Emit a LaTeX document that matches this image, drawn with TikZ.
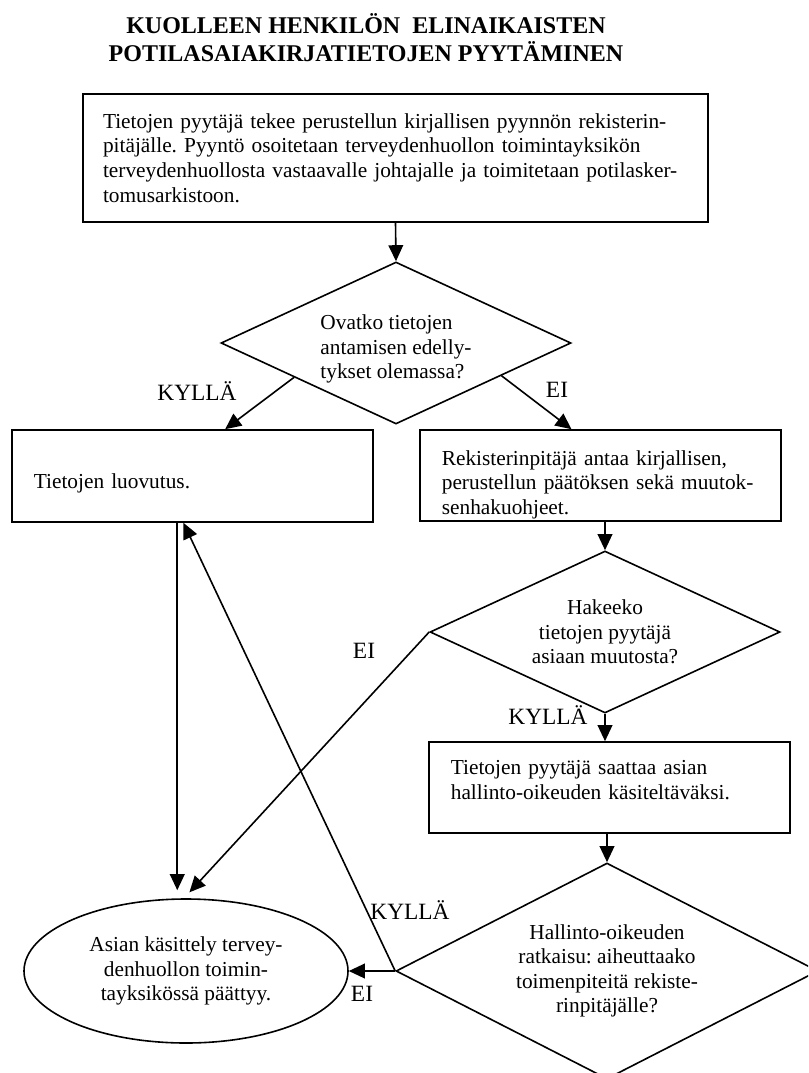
\documentclass[tikz,border=0pt]{standalone}
\usepackage{fontspec}
\setmainfont{Liberation Serif}
\frenchspacing
\usetikzlibrary{shapes.geometric,arrows.meta,calc}
\newcommand{\bodyfont}{\fontsize{16}{18.4}\selectfont}
\newcommand{\lblfont}{\fontsize{17.5}{20}\selectfont}
\newcommand{\headfont}{\fontsize{18}{21}\selectfont\bfseries}
\begin{document}
\begin{tikzpicture}[x=0.75pt,y=-0.75pt,line width=1.2pt,>={Triangle[length=12pt,width=11pt]},
 box/.style={draw,rectangle,inner sep=0pt,align=left,font=\bodyfont,text width=238pt},
 decision/.style={draw,diamond,shape aspect=2,inner sep=0pt,font=\bodyfont,minimum width=262.5pt,minimum height=121.5pt},
 endstate/.style={draw,ellipse,inner sep=0pt,align=center,font=\bodyfont,minimum width=243pt,minimum height=108pt},
 lbl/.style={anchor=base,inner sep=0pt,font=\lblfont},
 headline/.style={align=center,inner sep=0pt,font=\headfont}]
 \useasboundingbox (0,0) rectangle (808,1073);
 \clip (0,0) rectangle (808,1073);
 \node[headline] (title) at (366,38) {KUOLLEEN HENKILÖN\ \ ELINAIKAISTEN\\POTILASAIAKIRJATIETOJEN PYYTÄMINEN};
 \node[box,text width=438.75pt,minimum width=468.75pt,minimum height=96pt] (pyynto) at (395.5,158) {Tietojen pyytäjä tekee perustellun kirjallisen pyynnön rekisterin-\\pitäjälle. Pyyntö osoitetaan terveydenhuollon toimintayksikön\\terveydenhuollosta vastaavalle johtajalle ja toimitetaan potilasker-\\tomusarkistoon.};
 \node[decision,align=left] (edell) at (396,343) {\rule{0pt}{20pt}Ovatko tietojen\\antamisen edelly-\\tykset olemassa?};
 \node[box,minimum width=270.75pt,minimum height=69pt] (luovutus) at (192.5,476) {\rule{0pt}{21.5pt}Tietojen luovutus.};
 \node[box,minimum width=270.75pt,minimum height=68.25pt] (paatos) at (600.5,475.5) {\rule{0pt}{25pt}Rekisterinpitäjä antaa kirjallisen,\\perustellun päätöksen sekä muutok-\\senhakuohjeet.};
 \node[decision,align=center] (muutos) at (605,632) {Hakeeko\\tietojen pyytäjä\\asiaan muutosta?};
 \node[box,minimum width=270.75pt,minimum height=68.25pt] (hao) at (609.5,787.5) {Tietojen pyytäjä saattaa asian\\hallinto-oikeuden käsiteltäväksi.\rule[-11.5pt]{0pt}{1pt}};
 \node[decision,align=center,minimum width=316.5pt,minimum height=162pt] (ratkaisu) at (607,971) {Hallinto-oikeuden\\ratkaisu: aiheuttaako\\toimenpiteitä rekiste-\\rinpitäjälle?};
 \node[endstate] (loppu) at (186,971) {Asian käsittely tervey-\\denhuollon toimin-\\tayksikössä päättyy.};
 % vastaukset
 \node[lbl] (kylla1) at (197,400) {KYLLÄ};
 \node[lbl] (ei1) at (557,397) {EI};
 \node[lbl] (ei2) at (364,658) {EI};
 \node[lbl] (kylla2) at (548,724) {KYLLÄ};
 \node[lbl] (kylla3) at (410,919) {KYLLÄ};
 \node[lbl] (ei3) at (362,1001) {EI};
 \coordinate (alas) at ($(luovutus.south west)!0.458!(luovutus.south east)$);
 \coordinate (ylos) at ($(luovutus.south west)!0.475!(luovutus.south east)$);
 % nuolet
 \draw[->] (pyynto.south) -- (edell.north);
 \draw[->] ($(edell.south)!0.58!(edell.west)$) -- ($(luovutus.north west)!0.59!(luovutus.north east)$);
 \draw[->] ($(edell.south)!0.6!(edell.east)$) -- ($(paatos.north west)!0.42!(paatos.north east)$);
 \draw[->] (paatos.south -| muutos.north) -- (muutos.north);
 \draw[->] (muutos.south) -- (hao.north -| muutos.south);
 \draw[->] (hao.south -| ratkaisu.north) -- (ratkaisu.north);
 \draw[->,shorten >=6pt] (alas) -- (alas |- loppu.north);
 \draw[->,shorten >=6pt] (muutos.west) -- ($(loppu.north)+(-2,0)$);
 \draw[->] (ratkaisu.west) -- (loppu.east);
 \draw[->] (ratkaisu.west) -- (ylos);
\end{tikzpicture}
\end{document}
